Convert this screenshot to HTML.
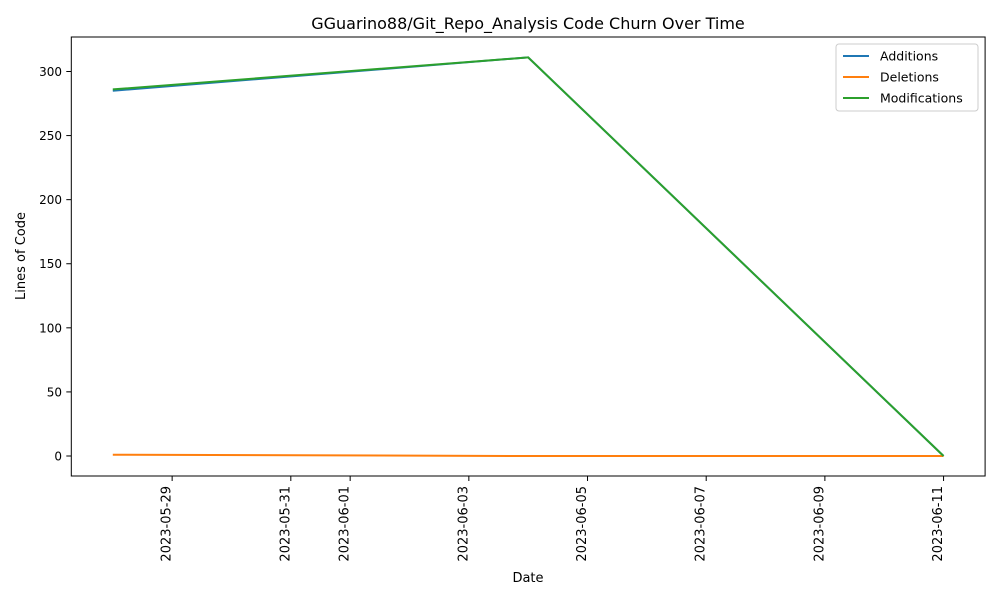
<!DOCTYPE html>
<html><head><meta charset="utf-8"><style>
body{margin:0;background:#fff;font-family:"Liberation Sans","DejaVu Sans",sans-serif;}
svg text{font-family:"DejaVu Sans","Liberation Sans",sans-serif;fill:#000}
</style></head><body>
<svg id="chart" width="1000" height="600" xmlns="http://www.w3.org/2000/svg">
<text x="528" y="29" font-size="16" text-anchor="middle">GGuarino88/Git_Repo_Analysis Code Churn Over Time</text>
<rect x="71.3" y="37" width="913.8" height="439" fill="none" stroke="#000" stroke-width="1"/>
<g id="yticks"></g><g id="xticks"></g><g id="series"></g>
<text x="528" y="582" font-size="13" text-anchor="middle">Date</text>
<text transform="translate(25,256) rotate(-90)" font-size="13" text-anchor="middle">Lines of Code</text>
<g>
<rect x="836" y="44" width="142" height="67" fill="#fff" stroke="#ccc" rx="3"/>
<g id="legend-items"></g>
</g>
</svg>
<script>
const dates=["2023-05-28","2023-06-04","2023-06-11"];
const additions=[285,311,0];
const deletions=[1,0,0];
const modifications=[286,311,0];
const yTicks=[0,50,100,150,200,250,300];
const xTickLabels=["2023-05-29","2023-05-31","2023-06-01","2023-06-03","2023-06-05","2023-06-07","2023-06-09","2023-06-11"];
const seriesNames=["Additions","Deletions","Modifications"];
const colors=["#1f77b4","#ff7f0e","#2ca02c"];
const NS="http://www.w3.org/2000/svg";
const day0=Date.parse("2023-05-28");
const dayOf=d=>(Date.parse(d)-day0)/86400000;
const X=d=>112.8+dayOf(d)*59.34;
const Y=v=>456-v*1.2817;
function mk(tag,attrs,parent){const e=document.createElementNS(NS,tag);for(const k in attrs)e.setAttribute(k,attrs[k]);parent.appendChild(e);return e;}
const yt=document.getElementById('yticks');
yTicks.forEach(v=>{
  const l=mk('line',{x1:66.3,x2:71.3,y1:Y(v),y2:Y(v),stroke:'#000'},yt);
  
  
  const t=mk('text',{x:62,y:Y(v)+4.5,'font-size':12,'text-anchor':'end'},yt);
  t.textContent=v;
  
  
});
const xt=document.getElementById('xticks');
xTickLabels.forEach(d=>{
  const x=X(d);
  const l=mk('line',{x1:x,x2:x,y1:476,y2:481,stroke:'#000'},xt);
  
  
  const t=mk('text',{transform:`translate(${x-1.5},486) rotate(-90)`,'font-size':13,'text-anchor':'end'},xt);
  t.textContent=d;
  
  
});
const sg=document.getElementById('series');
[additions,deletions,modifications].forEach((vals,i)=>{
  const p=mk('polyline',{points:vals.map((v,j)=>X(dates[j])+','+Y(v)).join(' '),fill:'none',stroke:colors[i],'stroke-width':2},sg);
  
  
});
const lg=document.getElementById('legend-items');
seriesNames.forEach((n,i)=>{
  const y=56+i*21;
  const l=mk('line',{x1:843,x2:869,y1:y,y2:y,stroke:colors[i],'stroke-width':2},lg);
  
  
  const t=mk('text',{x:880,y:y+4.5,'font-size':12.5},lg);
  t.textContent=n;
  
  
});
</script>
</body></html>
